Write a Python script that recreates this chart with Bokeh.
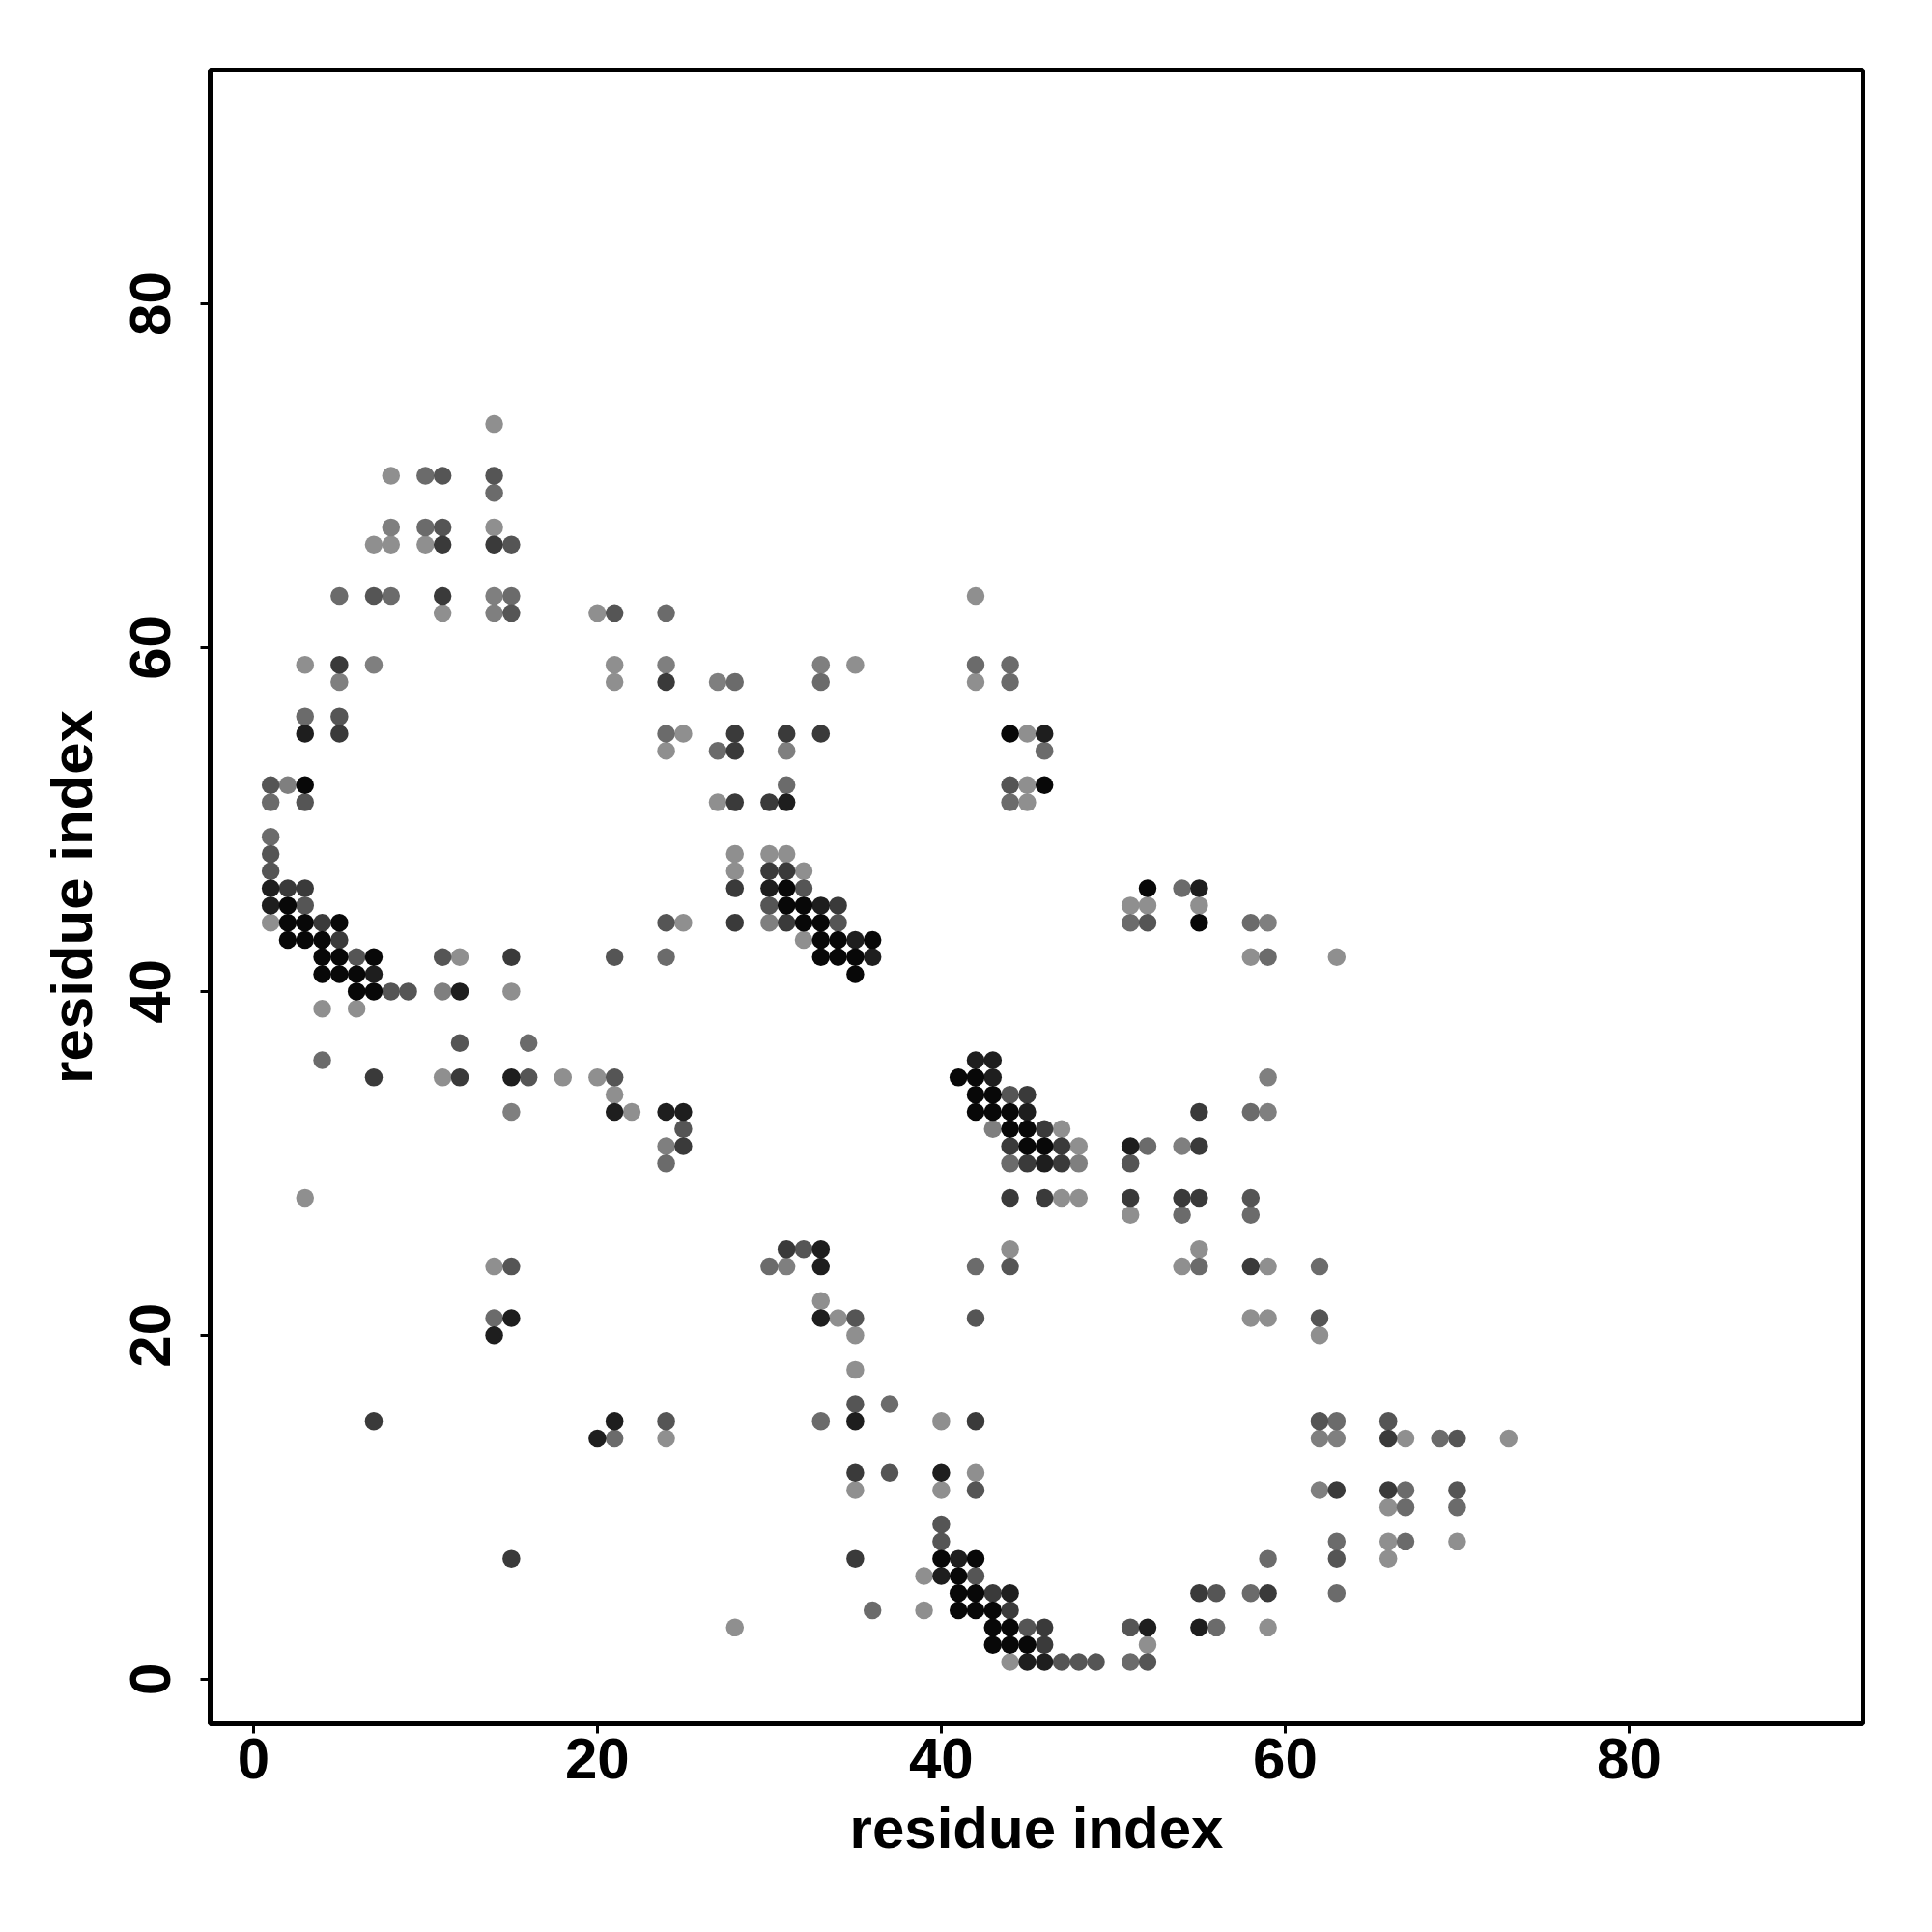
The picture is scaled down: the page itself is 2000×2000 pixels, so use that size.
from bokeh.plotting import figure
from bokeh.models import FixedTicker, Range1d
from bokeh.embed import file_html
from bokeh.resources import INLINE

# ---- contact map data: residue pairs grouped by contact strength ----
black_x = [3, 44, 46, 2, 2, 3, 5, 2, 3, 4, 4, 5, 7, 4, 5, 6, 6, 7, 31, 31, 32, 32, 33, 33, 34, 36, 33, 34, 35, 35,
           41, 42, 42, 43, 42, 43, 44, 44, 45, 45, 46, 52, 55, 40, 42, 41, 41, 42, 41, 42, 43, 43, 44, 43, 44, 45]
black_y = [52, 55, 52, 45, 44, 44, 44, 43, 43, 43, 42, 42, 42, 41, 41, 41, 40, 40, 46, 45, 45, 44, 44, 43, 43, 43, 42, 42, 42, 41,
           35, 35, 34, 34, 33, 33, 33, 32, 32, 31, 31, 46, 44, 7, 7, 6, 5, 5, 4, 4, 4, 3, 3, 2, 2, 2]

vdark_x = [3, 31, 46, 1, 1, 7, 12, 15, 21, 24, 30, 33, 35, 36, 42, 43, 43, 45, 25, 46, 55, 51, 15, 14, 21, 20, 33, 33, 33,
           35, 40, 41, 40, 44, 45, 46, 52, 55]
vdark_y = [55, 51, 55, 46, 45, 41, 40, 35, 33, 33, 46, 45, 43, 42, 36, 36, 35, 33, 33, 30, 46, 31, 21, 20, 15, 14, 25, 24, 21,
           15, 12, 7, 6, 5, 1, 1, 3, 3]

dark_x = [11, 14, 11, 5, 24, 5, 28, 31, 33, 28, 28, 30, 2, 3, 4, 5, 15, 7, 12, 30, 31, 28, 34, 28, 31, 45, 46, 25, 44, 47,
          45, 47, 44, 46, 55, 55, 51, 54, 55, 7, 15, 31, 42, 35, 35, 43, 44, 46, 46, 58, 63, 66, 66, 55, 59]
dark_y = [66, 66, 63, 59, 58, 55, 55, 55, 55, 54, 51, 51, 46, 46, 44, 43, 42, 35, 35, 47, 47, 46, 45, 44, 44, 34, 32, 31, 31, 31,
          30, 30, 28, 28, 33, 31, 28, 28, 28, 15, 7, 25, 15, 12, 7, 5, 4, 3, 2, 24, 11, 11, 14, 5, 5]

mdark_x = [11, 14, 11, 15, 7, 15, 21, 5, 1, 3, 44, 1, 1, 3, 24, 6, 11, 21, 8, 9, 12, 16, 21, 25, 32, 30, 34, 44, 51, 58,
           15, 32, 44, 35, 42, 35, 37, 42, 40, 40, 42, 45, 47, 48, 49, 62, 62, 66, 70, 70, 63, 56, 51, 52, 24, 52]
mdark_y = [70, 70, 67, 66, 63, 62, 62, 56, 52, 51, 52, 48, 47, 45, 44, 42, 42, 42, 40, 40, 37, 35, 35, 32, 46, 45, 44, 34, 30, 28,
           24, 25, 24, 21, 21, 16, 12, 11, 9, 8, 6, 3, 1, 1, 1, 21, 15, 15, 14, 11, 7, 5, 3, 1, 15, 44]

mid_x = [10, 14, 10, 5, 8, 15, 24, 1, 3, 24, 42, 44, 28, 33, 44, 27, 46, 31, 44, 1, 24, 16, 4, 24, 44, 54, 51, 58, 59, 52,
         58, 54, 58, 14, 21, 30, 42, 37, 33, 36, 55, 62, 63, 69, 67, 67, 70, 63, 67, 59, 58, 63, 56, 51]
mid_y = [70, 69, 67, 63, 63, 63, 62, 51, 56, 55, 59, 59, 58, 58, 58, 54, 54, 52, 51, 49, 42, 37, 36, 30, 30, 46, 44, 44, 42, 31,
         33, 27, 27, 21, 14, 24, 24, 16, 15, 4, 24, 24, 15, 14, 11, 10, 10, 8, 8, 7, 5, 5, 3, 1]

mlight_x = [8, 14, 14, 7, 24, 5, 33, 27, 31, 11, 15, 24, 30, 43, 48, 59, 59, 59, 54, 31, 62, 63, 62, 2]
mlight_y = [67, 63, 62, 59, 59, 58, 59, 58, 54, 40, 33, 31, 44, 32, 30, 44, 35, 33, 31, 24, 14, 14, 11, 52]

light_x = [14, 8, 14, 7, 8, 10, 11, 20, 3, 21, 21, 24, 42, 35, 42, 25, 45, 45, 27, 45, 1, 12, 15, 4, 6, 11, 18, 20, 21, 22,
           3, 28, 30, 31, 28, 32, 25, 32, 47, 48, 47, 48, 51, 52, 55, 58, 63, 51, 55, 14, 24, 44, 33, 34, 35, 35, 40, 42, 35, 40,
           39, 39, 28, 44, 54, 59, 58, 59, 62, 67, 73, 66, 66, 70, 66, 59, 52]
light_y = [73, 70, 67, 66, 66, 66, 62, 62, 59, 59, 58, 54, 63, 59, 58, 55, 55, 52, 51, 51, 44, 42, 40, 39, 39, 35, 35, 35, 34, 33,
           28, 48, 48, 48, 47, 47, 44, 43, 32, 31, 28, 28, 45, 45, 45, 42, 42, 27, 25, 24, 14, 25, 22, 21, 20, 18, 15, 12, 11, 11,
           6, 4, 3, 1, 24, 24, 21, 21, 20, 14, 14, 10, 8, 8, 7, 3, 2]

x_ticks = [0, 20, 40, 60, 80]
y_ticks = [0, 20, 40, 60, 80]

groups = [
    (light_x, light_y, "#8f8f8f"),
    (mlight_x, mlight_y, "#7f7f7f"),
    (mid_x, mid_y, "#6b6b6b"),
    (mdark_x, mdark_y, "#555555"),
    (dark_x, dark_y, "#3a3a3a"),
    (vdark_x, vdark_y, "#1e1e1e"),
    (black_x, black_y, "#080808"),
]

FONT = "Liberation Sans"

p = figure(frame_width=1711, frame_height=1712,
           x_range=Range1d(-2.52, 93.6), y_range=Range1d(-2.6, 93.6),
           output_backend="svg", toolbar_location=None,
           min_border_left=217, min_border_top=72, min_border_right=30, min_border_bottom=180)

for xs, ys, col in groups:
    p.scatter(x=xs, y=ys, size=18.5, marker="circle", fill_color=col, line_color=None)

p.xgrid.visible = False
p.ygrid.visible = False
p.background_fill_color = "white"
p.border_fill_color = "white"
p.outline_line_color = "black"
p.outline_line_width = 5

p.xaxis.ticker = FixedTicker(ticks=x_ticks)
p.yaxis.ticker = FixedTicker(ticks=y_ticks)

for ax in (p.xaxis[0], p.yaxis[0]):
    ax.axis_line_color = None
    ax.major_tick_in = 0
    ax.major_tick_out = 10
    ax.major_tick_line_width = 3
    ax.major_tick_line_color = "black"
    ax.minor_tick_line_color = None
    ax.major_label_text_font = FONT
    ax.major_label_text_font_style = "bold"
    ax.major_label_text_font_size = "60px"
    ax.major_label_text_color = "black"
    ax.axis_label = "residue index"
    ax.axis_label_text_font = FONT
    ax.axis_label_text_font_style = "bold"
    ax.axis_label_text_font_size = "60px"
    ax.axis_label_text_color = "black"

p.xaxis.major_label_standoff = 5
p.xaxis.axis_label_standoff = 15
p.yaxis.major_label_orientation = "vertical"
p.yaxis.major_label_standoff = 31
p.yaxis.axis_label_standoff = 25

open("out.html", "w").write(file_html(p, INLINE))
